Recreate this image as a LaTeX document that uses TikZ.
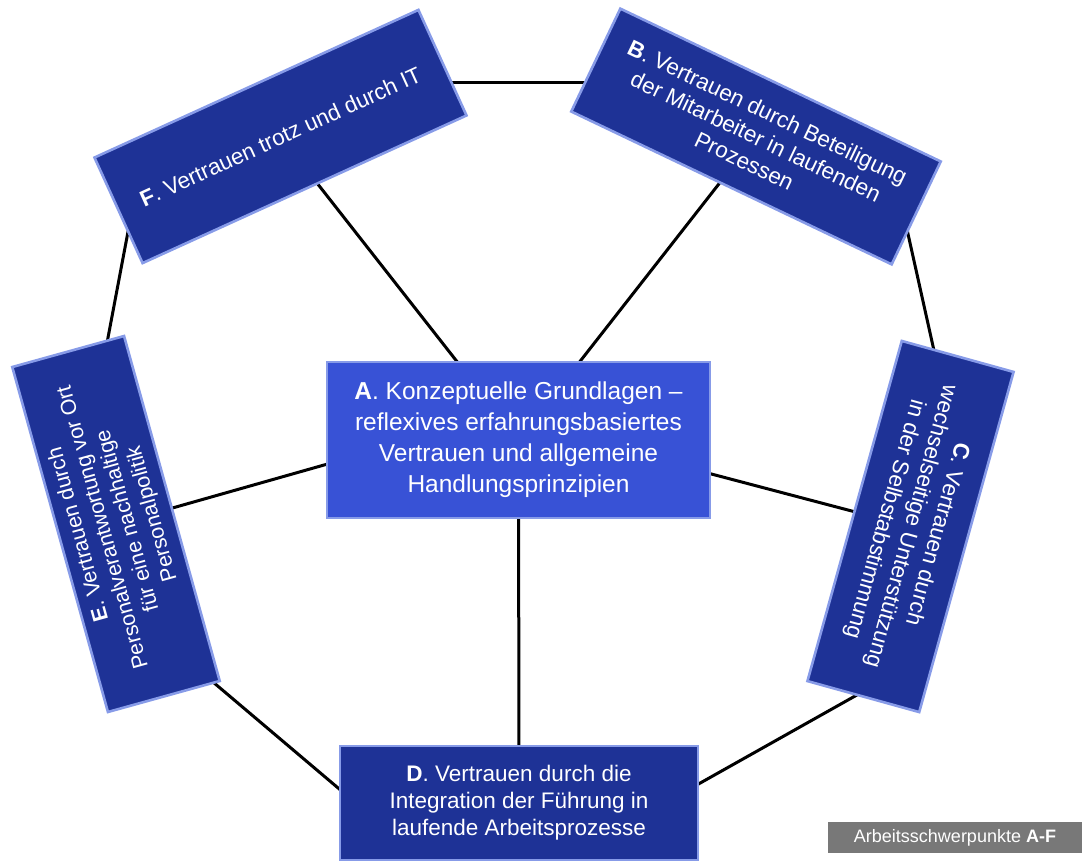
\documentclass[tikz,border=0pt]{standalone}
\usepackage{fontspec}
\setmainfont{Liberation Sans}
\usetikzlibrary{calc,backgrounds}
\definecolor{boxblue}{RGB}{30,50,150}
\definecolor{centerblue}{RGB}{56,82,214}
\definecolor{bevel}{RGB}{135,155,232}
\definecolor{tagbg}{RGB}{120,120,120}
\begin{document}
\begin{tikzpicture}[x=1pt,y=-1pt,
  box/.style={draw=bevel, line width=2.6pt, fill=boxblue, text=white, align=center,
    inner sep=0pt, font=\fontsize{22.5}{27}\selectfont},
  link/.style={line width=3pt, draw=black}]
\useasboundingbox (0,0) rectangle (1082,860);
% boxes
\node[box, rotate=24.5, minimum width=356pt, minimum height=116pt] (F) at (280.5,136.5)
  {\textbf{F}. Vertrauen trotz und durch IT};
\node[box, rotate=-25.5, minimum width=355pt, minimum height=114pt] (B) at (756,136.5)
  {\textbf{B}. Vertrauen durch Beteiligung\\der Mitarbeiter in laufenden\\Prozessen};
\node[box, rotate=-105.5, minimum width=353pt, minimum height=116pt] (C) at (910.5,526.5)
  {\textbf{C}. Vertrauen durch\\wechselseitige Unterstützung\\in der Selbstabstimmung};
\node[box, rotate=105.5, minimum width=358pt, minimum height=116pt,
  font=\fontsize{21.5}{25.5}\selectfont] (E) at (116,524)
  {\textbf{E}. Vertrauen durch\\Personalverantwortung vor Ort\\für eine nachhaltige\\Personalpolitik};
\node[box, minimum width=358pt, minimum height=114pt] (D) at (519,803)
  {\textbf{D}. Vertrauen durch die\\Integration der Führung in\\laufende Arbeitsprozesse};
\node[box, fill=centerblue, minimum width=383pt, minimum height=156pt,
  font=\fontsize{24.5}{31}\selectfont] (A) at (518.5,440)
  {\textbf{A}. Konzeptuelle Grundlagen –\\reflexives erfahrungsbasiertes\\Vertrauen und allgemeine\\Handlungsprinzipien};
% tag
\node[fill=tagbg, text=white, minimum width=254pt, minimum height=31pt, inner sep=0pt,
  font=\fontsize{18}{21}\selectfont] (tag) at (955,837.5) {Arbeitsschwerpunkte \textbf{A-F}};
% connector end points hidden under the boxes
\coordinate (fB) at (440,82);
\coordinate (bF) at (600,82);
\coordinate (bC) at (900,198);
\coordinate (cB) at (945,400);
\coordinate (cD) at (880,682);
\coordinate (dC) at (670,800);
\coordinate (dE) at (370,815);
\coordinate (eD) at (200,671);
\coordinate (eF) at (100,380);
\coordinate (fE) at (134,200);
\coordinate (aE) at (518,410);
\coordinate (aC) at (518,423);
\begin{pgfonlayer}{background}
  % spokes
  \draw[link] (A.center) -- (F.center);
  \draw[link] (A.center) -- (B.center);
  \draw[link] (aC) -- (C.center);
  \draw[link] (A.center) -- (D.center);
  \draw[link] (aE) -- (E.center);
  % ring
  \draw[link] (fB) -- (bF);
  \draw[link] (bC) -- (cB);
  \draw[link] (cD) -- (dC);
  \draw[link] (dE) -- (eD);
  \draw[link] (eF) -- (fE);
\end{pgfonlayer}
\end{tikzpicture}
\end{document}
